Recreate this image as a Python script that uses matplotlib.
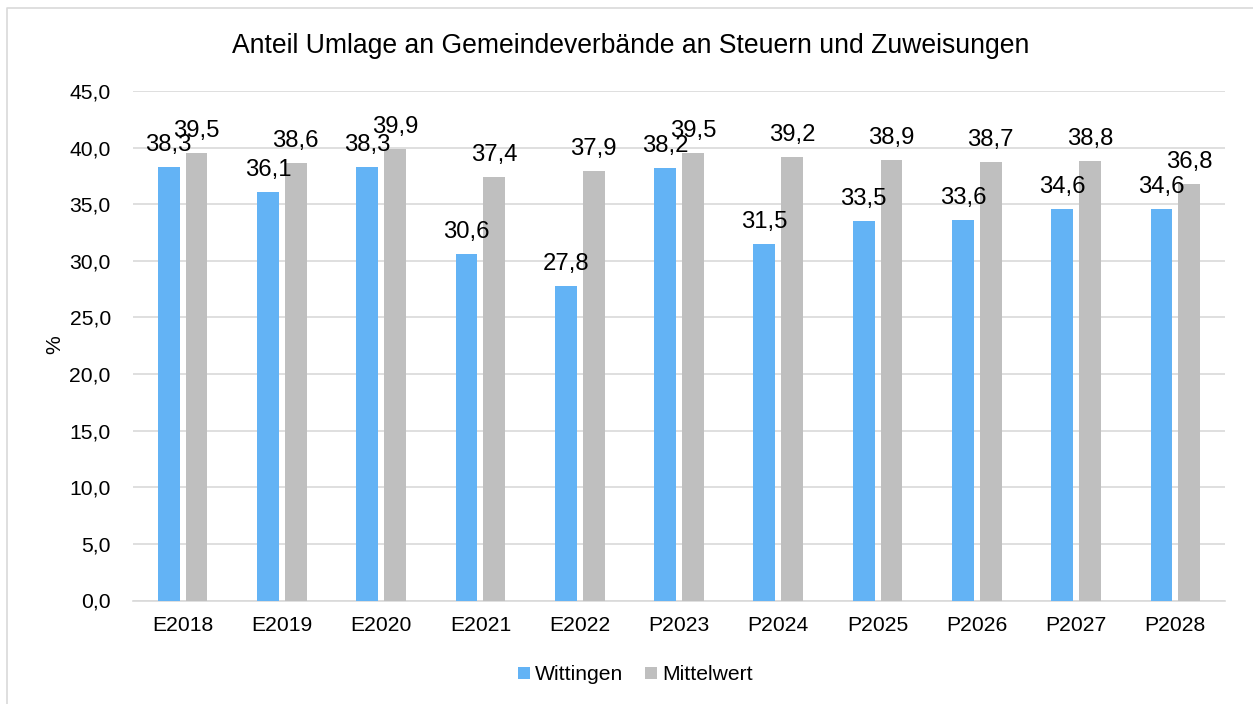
import matplotlib
matplotlib.use("Agg")
import matplotlib.pyplot as plt
from matplotlib.lines import Line2D
import numpy as np

plt.rcParams['font.family'] = ['Liberation Sans', 'DejaVu Sans']

categories = ["E2018", "E2019", "E2020", "E2021", "E2022", "P2023", "P2024",
              "P2025", "P2026", "P2027", "P2028"]
wittingen = [38.3, 36.1, 38.3, 30.6, 27.8, 38.2, 31.5, 33.5, 33.6, 34.6, 34.6]
mittelwert = [39.5, 38.6, 39.9, 37.4, 37.9, 39.5, 39.2, 38.9, 38.7, 38.8, 36.8]
series_names = ["Wittingen", "Mittelwert"]
colors = ["#63b3f5", "#bfbfbf"]

W, H = 1253, 704
fig = plt.figure(figsize=(W / 100, H / 100), dpi=100)
ax = fig.add_axes([133 / W, 1 - 600.5 / H, (1225 - 133) / W, (600.5 - 91) / H])

x = np.arange(len(categories))
bw = 0.22
off = 0.14
b1 = ax.bar(x - off, wittingen, bw, color=colors[0], label=series_names[0], zorder=3)
b2 = ax.bar(x + off, mittelwert, bw, color=colors[1], label=series_names[1], zorder=3)

for bars, vals in ((b1, wittingen), (b2, mittelwert)):
    for r, v in zip(bars, vals):
        ax.annotate(f"{v:.1f}".replace(".", ","),
                    (r.get_x() + r.get_width() / 2, v),
                    xytext=(0, 11.5), textcoords="offset points",
                    ha="center", va="baseline", fontsize=17.2, color="#000000", zorder=4)

yt = np.arange(0, 45.1, 5)
ax.set_xlim(-0.5, len(categories) - 0.5)
ax.set_ylim(0, 45)
ax.set_yticks(yt)
ax.set_yticklabels([f"{t:.1f}".replace(".", ",") for t in yt])
ax.set_xticks(x)
ax.set_xticklabels(categories)
ax.tick_params(axis="both", length=0, labelsize=15.2, colors="#000000")
ax.tick_params(axis="x", pad=11)
ax.tick_params(axis="y", pad=16)
ax.grid(axis="y", color="#d9d9d9", linewidth=1.2, zorder=0)
for s in ("top", "right", "left"):
    ax.spines[s].set_visible(False)
ax.spines["bottom"].set_color("#d9d9d9")
ax.spines["bottom"].set_linewidth(1.2)

fig.text(55 / W, 1 - 345 / H, "%", fontsize=15.2, rotation=90, ha="center", va="center")

fig.text(631 / W, 1 - 46 / H, "Anteil Umlage an Gemeindeverbände an Steuern und Zuweisungen",
         fontsize=19.1, ha="center", va="center")

fig.legend(handles=[b1, b2], labels=series_names, loc="center", bbox_to_anchor=(635.5 / W, 1 - 675 / H),
           ncol=2, frameon=False, fontsize=15.2, handlelength=0.55, handleheight=0.55,
           handletextpad=0.25, columnspacing=1.05, borderpad=0)

fig.add_artist(Line2D([7 / W, 7 / W, 1], [0, 1 - 8 / H, 1 - 8 / H],
                      transform=fig.transFigure, color="#d9d9d9", linewidth=1.2))

fig.savefig("out.png", dpi=100)
